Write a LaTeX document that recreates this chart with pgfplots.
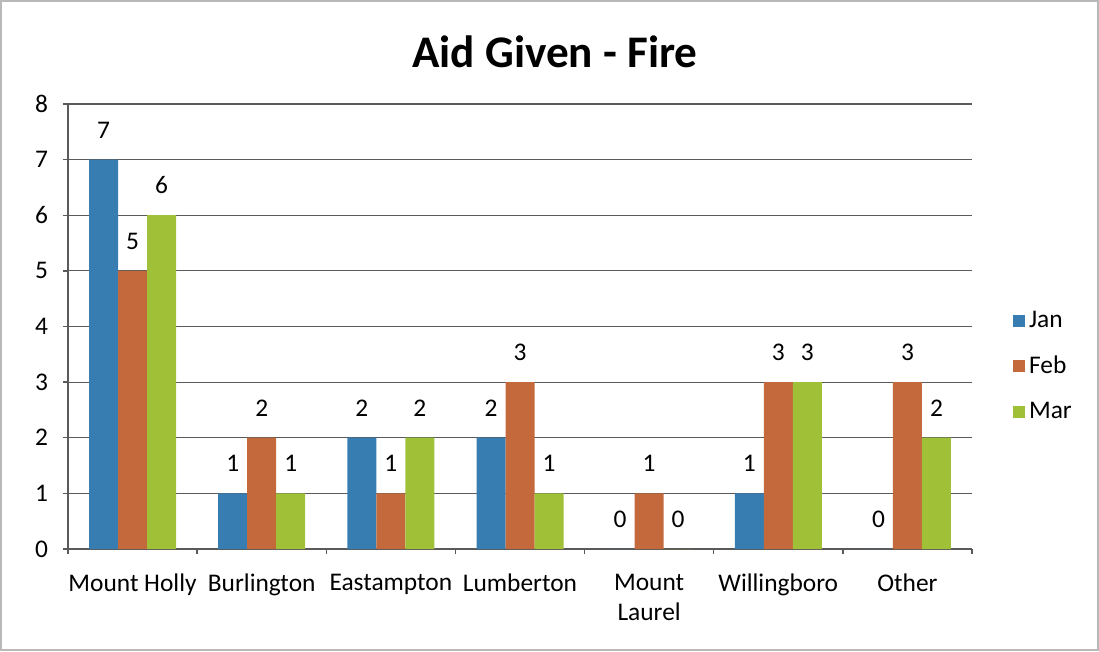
\documentclass[border=0pt]{standalone}
\usepackage{fontspec}
\setmainfont{Carlito}
\usepackage{pgfplots}
\pgfplotsset{compat=1.18}
\usetikzlibrary{calc}
\definecolor{cjan}{RGB}{55,125,178}
\definecolor{cfeb}{RGB}{196,105,60}
\definecolor{cmar}{RGB}{160,192,55}
\definecolor{axgray}{RGB}{90,90,90}
\newcommand{\lblfont}{\fontsize{12.7}{15}\selectfont}
\begin{document}
\begin{tikzpicture}
\begin{axis}[
  scale only axis, width=452pt, height=222.5pt,
  /pgf/number format/assume math mode=true,
  ybar=0pt, bar width=14.5pt,
  xmin=-0.5, xmax=6.5, ymin=0, ymax=8,
  ytick={0,...,8},
  axis x line*=bottom, axis y line*=left,
  axis line style={-, draw=axgray, line width=0.7pt},
  ymajorgrids, grid style={axgray, line width=0.6pt},
  tick align=outside, major tick length=2.5pt,
  tick style={draw=axgray, line width=0.7pt},
  xtick={-0.5,0.5,1.5,2.5,3.5,4.5,5.5,6.5},
  xticklabels={{},{},{},{},{},{},{},{}},
  extra x ticks={0,1,2,3,4,5,6},
  extra x tick labels={Mount Holly, Burlington, Eastampton, Lumberton, {Mount\\Laurel}, Willingboro, Other},
  extra x tick style={major tick length=0pt, grid=none,
     tick label style={align=center, font=\lblfont, yshift=-9pt}},
  yticklabel style={font=\lblfont, xshift=-4pt},
  nodes near coords,
  every node near coord/.append style={font=\lblfont, anchor=south, inner sep=0pt, yshift=10.5pt, text=black},
  legend style={at={(1.045,0.411)}, anchor=west, draw=none, fill=none, font=\lblfont,
     row sep=8.8pt, inner sep=0pt},
  legend cell align=left,
  legend image code/.code={\fill[#1] (0pt,-3pt) rectangle (6pt,3pt);},
]
\addplot[fill=cjan, draw=none] coordinates {(0,7) (1,1) (2,2) (3,2) (4,0) (5,1) (6,0)};
\addplot[fill=cfeb, draw=none] coordinates {(0,5) (1,2) (2,1) (3,3) (4,1) (5,3) (6,3)};
\addplot[fill=cmar, draw=none] coordinates {(0,6) (1,1) (2,2) (3,1) (4,0) (5,3) (6,2)};
\legend{Jan, Feb, Mar}
\end{axis}
\node[font=\fontsize{22.6}{27}\bfseries\selectfont] at ($(current axis.north west)+(243.5pt,26pt)$) {Aid Given - Fire};
\pgfresetboundingbox
\path[use as bounding box] ($(current axis.south west)+(-34pt,-51pt)$) rectangle ($(current axis.north east)+(63.5pt,52pt)$);
\draw[gray!55, line width=0.6pt] ($(current axis.south west)+(-33.5pt,-50.5pt)$) rectangle ($(current axis.north east)+(63pt,51.5pt)$);
\end{tikzpicture}
\end{document}
